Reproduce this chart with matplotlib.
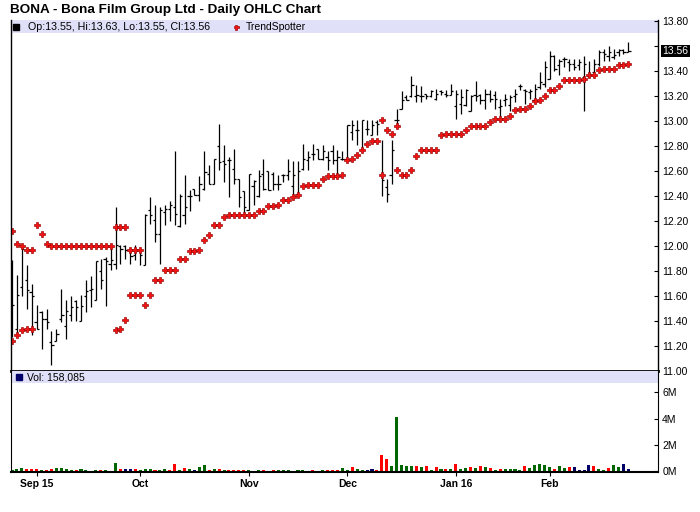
import numpy as np
import pandas as pd
import matplotlib
matplotlib.use('Agg')
import matplotlib.pyplot as plt
import matplotlib.transforms as mtransforms
from matplotlib.patches import Rectangle

plt.rcParams['font.family'] = ['Liberation Sans', 'DejaVu Sans']

nan = np.nan

# trading days (NYSE holidays removed)
holidays = ['2015-09-07', '2015-11-26', '2015-12-25', '2016-01-01', '2016-01-18', '2016-02-15']
dates = pd.bdate_range('2015-08-25', '2016-02-24')
dates = dates[~dates.isin(pd.to_datetime(holidays))]

opens = [11.50, 11.34, 11.67, 11.73, 11.63, 11.39, 11.47, 11.42, 11.23, 11.24,
         11.42, 11.36, 11.45, 11.56, 11.40, 11.60, 11.65, 11.57, 11.80, 11.90,
         11.86, 11.86, 12.00, 12.00, 11.97, 11.93, 11.97, 11.85, 12.29, 12.21,
         12.10, 12.27, 12.30, 12.31, 12.16, 12.25, 12.40, 12.46, 12.41, 12.46,
         12.58, 12.50, 12.80, 12.68, 12.69, 12.62, 12.54, 12.44, 12.29, 12.48,
         12.40, 12.58, 12.60, 12.58, 12.50, 12.57, 12.57, 12.48, 12.42, 12.62,
         12.69, 12.74, 12.78, 12.70, 12.71, 12.76, 12.69, 12.70, 12.70, 12.91,
         12.93, 12.77, 12.94, 12.89, 12.99, 12.57, 12.47, 12.57, 13.01, 13.10,
         13.19, 13.20, 13.20, 13.20, 13.22, 13.20, 13.18, 13.24, 13.22, 13.21,
         13.12, 13.14, 13.13, 13.08, 13.21, 13.21, 13.17, 13.22, 13.21, 13.11,
         13.17, 13.13, 13.20, 13.28, 13.25, 13.23, 13.17, 13.27, 13.30, 13.34,
         13.52, 13.45, 13.50, 13.47, 13.46, 13.45, 13.35, 13.36, 13.39, 13.46,
         13.55, 13.52, 13.51, 13.55, 13.57, 13.55]

highs = [11.89, 11.77, 12.00, 11.85, 11.70, 11.53, 11.48, 11.50, 11.32, 11.34,
         11.66, 11.57, 11.60, 11.57, 11.61, 11.73, 11.76, 11.88, 11.90, 11.91,
         12.00, 12.31, 12.01, 12.01, 11.98, 12.01, 11.98, 12.26, 12.39, 12.33,
         12.31, 12.33, 12.36, 12.76, 12.42, 12.57, 12.45, 12.46, 12.56, 12.76,
         12.65, 12.70, 12.98, 12.81, 12.71, 12.78, 12.54, 12.44, 12.58, 12.53,
         12.61, 12.70, 12.60, 12.59, 12.57, 12.58, 12.70, 12.68, 12.68, 12.82,
         12.76, 12.82, 12.78, 12.81, 12.76, 12.81, 12.77, 12.76, 12.97, 13.01,
         13.01, 13.01, 13.01, 13.01, 13.01, 12.85, 12.54, 12.85, 13.10, 13.24,
         13.21, 13.36, 13.29, 13.28, 13.22, 13.25, 13.26, 13.25, 13.25, 13.30,
         13.25, 13.26, 13.26, 13.21, 13.32, 13.22, 13.26, 13.25, 13.24, 13.18,
         13.22, 13.21, 13.26, 13.30, 13.26, 13.26, 13.30, 13.39, 13.48, 13.56,
         13.53, 13.50, 13.51, 13.50, 13.50, 13.50, 13.52, 13.48, 13.50, 13.57,
         13.58, 13.60, 13.58, 13.58, 13.58, 13.63]

lows = [11.27, 11.28, 11.60, 11.50, 11.29, 11.34, 11.18, 11.34, 11.05, 11.24,
        11.39, 11.26, 11.40, 11.40, 11.40, 11.47, 11.51, 11.57, 11.66, 11.52,
        11.81, 11.82, 11.86, 11.90, 11.86, 11.89, 11.85, 11.85, 12.18, 12.03,
        11.86, 12.17, 12.20, 12.17, 12.15, 12.18, 12.28, 12.41, 12.36, 12.45,
        12.50, 12.50, 12.61, 12.51, 12.39, 12.50, 12.31, 12.23, 12.29, 12.33,
        12.39, 12.45, 12.45, 12.45, 12.45, 12.51, 12.53, 12.39, 12.42, 12.61,
        12.61, 12.69, 12.70, 12.69, 12.61, 12.66, 12.57, 12.69, 12.69, 12.85,
        12.81, 12.77, 12.89, 12.89, 12.89, 12.40, 12.35, 12.50, 12.95, 13.10,
        13.17, 13.19, 13.15, 13.15, 13.18, 13.19, 13.17, 13.21, 13.19, 13.21,
        13.02, 13.06, 13.12, 13.08, 13.16, 13.14, 13.10, 13.15, 13.10, 13.03,
        13.12, 13.08, 13.15, 13.25, 13.14, 13.18, 13.16, 13.26, 13.27, 13.34,
        13.40, 13.37, 13.43, 13.40, 13.41, 13.41, 13.08, 13.35, 13.38, 13.44,
        13.48, 13.48, 13.50, 13.52, 13.54, 13.55]

closes = [11.53, 11.61, 11.98, 11.65, 11.60, 11.34, 11.42, 11.39, 11.21, 11.30,
          11.45, 11.48, 11.51, 11.51, 11.52, 11.64, 11.66, 11.88, 11.73, 11.88,
          11.89, 12.01, 11.98, 11.97, 11.92, 11.97, 11.93, 12.25, 12.25, 12.10,
          12.29, 12.30, 12.33, 12.26, 12.40, 12.31, 12.40, 12.41, 12.50, 12.59,
          12.50, 12.70, 12.67, 12.66, 12.69, 12.54, 12.39, 12.31, 12.58, 12.52,
          12.56, 12.46, 12.45, 12.50, 12.50, 12.57, 12.60, 12.57, 12.60, 12.70,
          12.71, 12.74, 12.70, 12.76, 12.69, 12.69, 12.71, 12.70, 12.97, 12.97,
          12.93, 13.01, 12.94, 12.97, 12.98, 12.53, 12.42, 12.77, 13.01, 13.17,
          13.17, 13.29, 13.21, 13.20, 13.20, 13.24, 13.22, 13.23, 13.21, 13.24,
          13.22, 13.19, 13.25, 13.20, 13.20, 13.17, 13.22, 13.18, 13.18, 13.12,
          13.18, 13.19, 13.22, 13.28, 13.24, 13.24, 13.26, 13.31, 13.43, 13.52,
          13.42, 13.48, 13.50, 13.46, 13.43, 13.47, 13.46, 13.38, 13.46, 13.55,
          13.54, 13.55, 13.53, 13.57, 13.55, 13.56]

# TrendSpotter markers (some days carry two)
ts_upper = [12.12, 12.02, 12.00, 11.97, 11.97, 12.17, 12.10, 12.02, 12.00, 12.00,
            12.00, 12.00, 12.00, 12.00, 12.00, 12.00, 12.00, 12.00, 12.00, 12.00,
            12.00, 12.15, 12.15, 12.15, 11.97, 11.97, 11.97, nan, nan, nan,
            nan, nan, nan, nan, nan, nan, nan, nan, nan, nan,
            nan, nan, nan, nan, nan, nan, nan, nan, nan, nan,
            nan, nan, nan, nan, nan, nan, nan, nan, nan, nan,
            nan, nan, nan, nan, nan, nan, nan, nan, nan, nan,
            nan, nan, nan, nan, nan, 13.01, 12.93, 12.90, 12.96, nan,
            nan, nan, nan, nan, nan, nan, nan, nan, nan, nan,
            nan, nan, nan, nan, nan, nan, nan, nan, nan, nan,
            nan, nan, nan, nan, nan, nan, nan, nan, nan, nan,
            nan, nan, nan, nan, nan, nan, nan, nan, nan, nan,
            nan, nan, nan, nan, nan, nan]

ts_lower = [11.24, 11.29, 11.33, 11.34, 11.34, nan, nan, nan, nan, nan,
            nan, nan, nan, nan, nan, nan, nan, nan, nan, nan,
            nan, 11.33, 11.34, 11.41, 11.61, 11.61, 11.61, 11.53, 11.61, 11.73,
            11.73, 11.81, 11.81, 11.81, 11.90, 11.90, 11.96, 11.96, 11.97, 12.05,
            12.09, 12.17, 12.17, 12.23, 12.25, 12.25, 12.25, 12.25, 12.25, 12.25,
            12.28, 12.28, 12.32, 12.32, 12.33, 12.37, 12.37, 12.39, 12.41, 12.48,
            12.49, 12.49, 12.49, 12.54, 12.56, 12.56, 12.56, 12.57, 12.69, 12.70,
            12.73, 12.77, 12.82, 12.84, 12.84, 12.57, nan, nan, 12.61, 12.57,
            12.57, 12.61, 12.72, 12.77, 12.77, 12.77, 12.77, 12.89, 12.90, 12.90,
            12.90, 12.90, 12.93, 12.96, 12.96, 12.96, 12.96, 12.99, 13.02, 13.02,
            13.02, 13.04, 13.09, 13.10, 13.10, 13.12, 13.16, 13.17, 13.20, 13.25,
            13.25, 13.28, 13.33, 13.33, 13.33, 13.33, 13.34, 13.37, 13.37, 13.41,
            13.42, 13.42, 13.42, 13.45, 13.45, 13.46]

# volume in millions
volume = [0.10, 0.18, 0.25, 0.18, 0.18, 0.18, 0.10, 0.10, 0.18, 0.25,
          0.25, 0.18, 0.10, 0.10, 0.18, 0.10, 0.03, 0.10, 0.10, 0.10,
          0.03, 0.63, 0.18, 0.18, 0.18, 0.18, 0.10, 0.18, 0.18, 0.10,
          0.10, 0.18, 0.10, 0.56, 0.10, 0.25, 0.18, 0.10, 0.33, 0.48,
          0.10, 0.18, 0.18, 0.10, 0.10, 0.10, 0.10, 0.10, 0.10, 0.03,
          0.10, 0.10, 0.03, 0.10, 0.10, 0.10, 0.10, 0.03, 0.10, 0.10,
          0.03, 0.10, 0.03, 0.10, 0.10, 0.10, 0.10, 0.25, 0.10, 0.33,
          0.18, 0.10, 0.10, 0.18, 0.10, 1.24, 0.94, 0.40, 4.13, 0.48,
          0.40, 0.40, 0.40, 0.33, 0.40, 0.10, 0.33, 0.18, 0.18, 0.18,
          0.56, 0.18, 0.25, 0.33, 0.25, 0.40, 0.33, 0.25, 0.10, 0.18,
          0.18, 0.18, 0.18, 0.10, 0.40, 0.25, 0.48, 0.56, 0.48, 0.33,
          0.18, 0.40, 0.25, 0.33, 0.33, 0.10, 0.10, 0.48, 0.40, 0.18,
          0.10, 0.25, 0.48, 0.33, 0.56, 0.158085]
# g = up day, r = down day, n = unchanged
vol_dir = ("gggrrrgrrg" "gggrggggrg" "ggrnnrgggr" "ggrrgrgngg" "rgrgrrrrgg"
           "grrrgggggg" "grggrrrggr" "ggnnrrrggg" "ggrgrgrgrg" "rggrgrgrgr"
           "ggggrggggg" "rggrnnnnrg" "grggnn")

title = 'BONA - Bona Film Group Ltd - Daily OHLC Chart'

n = len(dates)
x = np.arange(n)
o, h, l, c = map(np.array, (opens, highs, lows, closes))

W, H = 700, 512
fig = plt.figure(figsize=(W / 100, H / 100), dpi=100)


def px_box(left, top, right, bottom):
    return [left / W, 1 - bottom / H, (right - left) / W, (bottom - top) / H]


ax = fig.add_axes(px_box(11, 20, 658, 371))
axv = fig.add_axes(px_box(11, 371, 658, 472), sharex=ax)

# price bars
bar_lw = 0.9
ax.vlines(x, l, h, color='black', lw=bar_lw)
ax.hlines(o, x - 0.45, x, color='black', lw=bar_lw)
ax.hlines(c, x, x + 0.45, color='black', lw=bar_lw)
mk = dict(ls='none', marker='P', ms=4.0, mfc='#ff1010', mec='#900000', mew=0.45)
ax.plot(x, ts_upper, **mk)
ax.plot(x, ts_lower, **mk)

ax.set_xlim(-0.2, 131.0)
ax.set_ylim(11.0, 13.808)

yt = np.round(np.arange(11.0, 13.81, 0.2), 2)
ax.yaxis.tick_right()
ax.set_yticks(yt)
ax.set_yticklabels(['' if abs(v - 13.6) < 1e-6 else f'{v:.2f}' for v in yt])
ax.tick_params(axis='y', direction='in', length=3, pad=3, labelsize=7.5, width=0.8)
ax.tick_params(axis='x', bottom=False, labelbottom=False)
ax.spines['top'].set_visible(False)
ax.spines['bottom'].set_linewidth(2)
ax.spines['left'].set_linewidth(1)
ax.spines['right'].set_linewidth(1)

# last close highlight on the price scale
blend = mtransforms.blended_transform_factory(ax.transAxes, ax.transData)
ax.annotate(f'{c[-1]:.2f}', xy=(1, c[-1]), xycoords=blend, xytext=(3.2, 0),
            textcoords='offset points', ha='left', va='center', fontsize=7.5,
            color='white', bbox=dict(fc='black', ec='none', pad=0.8),
            annotation_clip=False)

# legend band of the price panel
band_h = 13 / 351
ax.add_patch(Rectangle((0, 1 - band_h), 1, band_h, transform=ax.transAxes,
                       fc='#e0e0f8', ec='none', zorder=0.5))
yb = 1 - band_h / 2
ax.plot([(15.5 - 11) / 647], [yb], marker='s', ms=5, color='black',
        transform=ax.transAxes, clip_on=False)
ax.text((28 - 11) / 647, yb,
        f'Op:{o[-1]:.2f}, Hi:{h[-1]:.2f}, Lo:{l[-1]:.2f}, Cl:{c[-1]:.2f}',
        transform=ax.transAxes, va='center', ha='left', fontsize=7.7)
ax.plot([(236 - 11) / 647], [yb], transform=ax.transAxes, clip_on=False,
        **dict(mk, ms=3.6))
ax.text((246 - 11) / 647, yb, 'TrendSpotter', transform=ax.transAxes,
        va='center', ha='left', fontsize=7.5)

# volume
colors = {'g': '#006600', 'r': '#ff0000', 'n': '#000066'}
axv.bar(x, volume, width=0.62, color=[colors[d] for d in vol_dir], zorder=2)
axv.set_ylim(-0.06, 7.62)
axv.yaxis.tick_right()
axv.set_yticks([0, 2, 4, 6])
axv.set_yticklabels(['0M', '2M', '4M', '6M'])
axv.tick_params(axis='y', direction='in', length=3, pad=3, labelsize=7.5, width=0.8)
axv.spines['top'].set_visible(False)
axv.spines['bottom'].set_linewidth(1.5)

vb_h = 12 / 101
axv.add_patch(Rectangle((0, 1 - vb_h), 1, vb_h, transform=axv.transAxes,
                        fc='#e0e0f8', ec='none', zorder=0.5))
yv = 1 - vb_h / 2
axv.plot([(18.5 - 11) / 647], [yv], marker='s', ms=5, color='#000066',
         transform=axv.transAxes, clip_on=False)
axv.text((27 - 11) / 647, yv, f'Vol: {int(round(volume[-1] * 1e6)):,}',
         transform=axv.transAxes, va='center', ha='left', fontsize=7.5)

# month ticks
month_pos = [i for i in range(1, n) if dates[i].month != dates[i - 1].month]
month_lab = [dates[i].strftime('%b %y') if (k == 0 or dates[i].month == 1)
             else dates[i].strftime('%b') for k, i in enumerate(month_pos)]
axv.set_xticks(month_pos)
axv.set_xticklabels(month_lab, fontweight='bold')
axv.tick_params(axis='x', direction='out', length=3, pad=2, labelsize=7.5, width=0.8)

fig.text(10 / W, 1 - 10.5 / H, title, fontsize=9.7, fontweight='bold',
         va='center', ha='left')

fig.savefig('out.png', dpi=100)
